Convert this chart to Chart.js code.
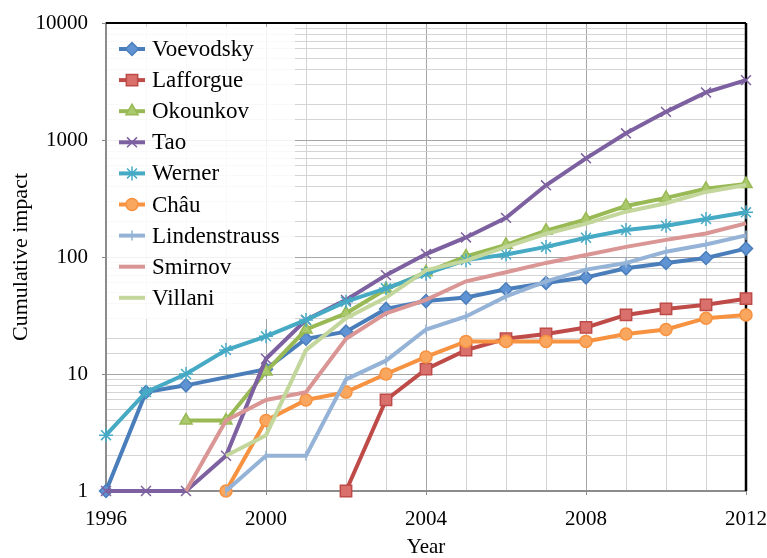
<!DOCTYPE html>
<html>
<head>
<meta charset="utf-8">
<script src="https://cdn.jsdelivr.net/npm/chart.js@4.4.1/dist/chart.umd.min.js"></script>
<style>
  html, body { margin: 0; padding: 0; background: #fff; }
  #wrap { width: 767px; height: 558px; }
</style>
</head>
<body>
<div id="wrap"><canvas id="myChart" width="767" height="558"></canvas></div>
<script>
// data
const years = ['1996', '1997', '1998', '1999', '2000', '2001', '2002', '2003', '2004',
    '2005', '2006', '2007', '2008', '2009', '2010', '2011', '2012'];
const names = ['Voevodsky', 'Lafforgue', 'Okounkov', 'Tao', 'Werner', 'Châu', 'Lindenstrauss', 'Smirnov', 'Villani'];
const voevodsky = [1, 7, 8, null, 11, 20, 23, 36, 42, 45, 53, 60, 67, 80, 89, 98, 118];
const lafforgue = [null, null, null, null, null, null, 1, 6, 11, 16, 20, 22, 25, 32, 36, 39, 44];
const okounkov = [null, null, 4, 4, 10.5, 24, 33, 53, 74, 101, 127, 168, 210, 273, 320, 383, 420];
const tao = [1, 1, 1, 2, 13.5, 29, 43, 70, 106, 147, 216, 410, 697, 1140, 1740, 2550, 3250];
const werner = [3, 7, 10, 16, 21, 29, 41.5, 54, 72, 94, 105, 122, 146, 170, 185, 211, 241];
const chau = [null, null, null, 1, 4, 6, 7, 10, 14, 19, 19, 19, 19, 22, 24, 30, 32];
const lindenstrauss = [null, null, null, 1, 2, 2, 9, 13, 24, 31, 46, 62, 78, 89, 111, 128, 153];
const smirnov = [null, null, 1, 4, 6, 7, 20, 33, 43, 62, 74, 89, 104, 122, 140, 159, 194];
const villani = [null, null, null, 2, 3, 16, 30, 45, 77, 93, 122, 158, 193, 244, 288, 360, 412];
const yTickLabels = [1, 10, 100, 1000, 10000];

const serif = '"Liberation Serif", "DejaVu Serif", serif';

// line colour, marker fill, marker style, marker radius
const styles = [
    { line: '#4a7ebb', fill: '#5f93d3', point: 'rectRot', r: 6.5 },
    { line: '#be4b48', fill: '#d9706c', point: 'rect', r: 8 },
    { line: '#98b954', fill: '#aac96c', point: 'triangle', r: 7 },
    { line: '#7d60a0', fill: '#8f73b3', point: 'crossRot', r: 7 },
    { line: '#46aac5', fill: '#46aac5', point: 'star', r: 7 },
    { line: '#f69240', fill: '#f9a65f', point: 'circle', r: 6 },
    { line: '#94b3d6', fill: '#94b3d6', point: 'line', r: 5, rot: 90 },
    { line: '#da9694', fill: '#da9694', point: false, r: 0 },
    { line: '#c3d69b', fill: '#c3d69b', point: false, r: 0 },
];
const series = [voevodsky, lafforgue, okounkov, tao, werner, chau, lindenstrauss, smirnov, villani];

const ctx = document.getElementById('myChart');

/**
 * legend and frame drawn by hand (line sample + marker like the original)
 */
const framePlugin = {
    id: 'frame',
    beforeDatasetsDraw(chart) {
        const c = chart.ctx;
        const a = chart.chartArea;
        c.save();
        // top + right black frame
        c.strokeStyle = '#000';
        c.lineWidth = 2;
        c.beginPath();
        c.moveTo(a.left, a.top);
        c.lineTo(a.right, a.top);
        c.stroke();
        c.lineWidth = 2.5;
        c.beginPath();
        c.moveTo(a.right, a.top);
        c.lineTo(a.right, a.bottom);
        c.stroke();

        // legend box
        c.fillStyle = 'rgba(255,255,255,0.85)';
        c.fillRect(a.left + 1, 27, 188, 292);
        for (let i = 0; i < names.length; i++) {
            const y = 49 + i * 31.1;
            const s = styles[i];
            c.strokeStyle = s.line;
            c.lineWidth = 4;
            c.beginPath();
            c.moveTo(119, y);
            c.lineTo(145, y);
            c.stroke();
            if (s.point) {
                c.fillStyle = s.fill;
                c.strokeStyle = s.line;
                c.lineWidth = 1.5;
                Chart.helpers.drawPoint(c, { pointStyle: s.point, radius: s.r, rotation: s.rot || 0, borderWidth: 1.5 }, 132, y);
            }
            c.fillStyle = '#000';
            c.font = '23px ' + serif;
            c.textBaseline = 'middle';
            c.textAlign = 'left';
            c.fillText(names[i], 152, y + 1);
        }
        c.restore();
    }
};

const datasets = series.map(function (data, i) {
    const s = styles[i];
    return {
        label: names[i],
        data: data,
        borderColor: s.line,
        backgroundColor: s.fill,
        borderWidth: 4,
        pointStyle: s.point,
        pointRadius: s.r,
        pointHoverRadius: s.r,
        pointRotation: s.rot || 0,
        pointBorderColor: s.line,
        pointBackgroundColor: s.fill,
        pointBorderWidth: 1.5,
        tension: 0,
        spanGaps: true,
        clip: false,
        order: -i,
    };
});

new Chart(ctx, {
    type: 'line',
    data: { labels: years, datasets: datasets },
    plugins: [framePlugin],
    options: {
        responsive: false,
        animation: false,
        layout: { padding: { top: 23, right: 21, left: 0, bottom: 0 } },
        plugins: {
            legend: { display: false },
            tooltip: { enabled: false },
        },
        scales: {
            x: {
                type: 'category',
                offset: false,
                ticks: {
                    autoSkip: false,
                    maxRotation: 0,
                    padding: 12,
                    color: '#000',
                    font: { family: serif, size: 21 },
                    callback: function (v, idx) {
                        return idx % 4 === 0 ? years[idx] : '';
                    }
                },
                grid: {
                    color: function (c) { return c.index % 4 === 0 ? '#a6a6a6' : '#d4d4d4'; },
                    tickColor: function (c) { return c.index % 4 === 0 ? '#888' : 'rgba(0,0,0,0)'; },
                    tickLength: 4,
                },
                border: { color: '#8c8c8c', width: 2 },
                title: {
                    display: true,
                    text: 'Year',
                    color: '#000',
                    font: { family: serif, size: 21, lineHeight: 1 },
                    padding: { top: 0, bottom: 0 },
                },
                afterFit: function (scale) {
                    scale.height = 67;
                    scale.paddingLeft = 0;
                    scale.paddingRight = 0;
                }
            },
            y: {
                type: 'logarithmic',
                min: 1,
                max: 10000,
                ticks: {
                    autoSkip: false,
                    padding: 14,
                    color: '#000',
                    font: { family: serif, size: 21 },
                    callback: function (v) {
                        return yTickLabels.includes(v) ? String(v) : '';
                    }
                },
                grid: {
                    color: function (c) {
                        const v = c.tick && c.tick.value;
                        return yTickLabels.includes(v) ? '#a6a6a6' : '#d4d4d4';
                    },
                    tickColor: function (c) {
                        const v = c.tick && c.tick.value;
                        return yTickLabels.includes(v) ? '#888' : 'rgba(0,0,0,0)';
                    },
                    tickLength: 4,
                },
                border: { color: '#8c8c8c', width: 2 },
                title: {
                    display: true,
                    text: 'Cumulative impact',
                    color: '#000',
                    font: { family: serif, size: 22 },
                    padding: { top: 8, bottom: 0 },
                },
                afterFit: function (scale) {
                    scale.width = 106;
                    scale.paddingTop = 0;
                    scale.paddingBottom = 0;
                }
            }
        }
    }
});
</script>
</body>
</html>
